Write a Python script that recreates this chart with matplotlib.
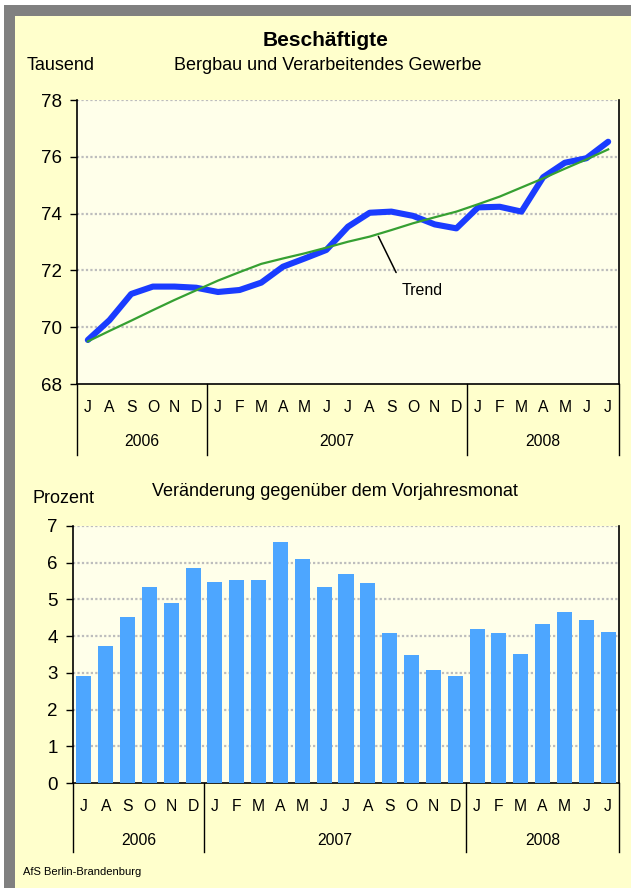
import matplotlib
matplotlib.use("Agg")
import matplotlib.pyplot as plt
import matplotlib.transforms as mtransforms
from matplotlib.patches import Rectangle

plt.rcParams["font.family"] = ["Liberation Sans", "DejaVu Sans"]

# --- Data ---
months = ["J", "A", "S", "O", "N", "D",
          "J", "F", "M", "A", "M", "J", "J", "A", "S", "O", "N", "D",
          "J", "F", "M", "A", "M", "J", "J"]
years = ["2006", "2007", "2008"]
year_len = [6, 12, 7]

employed = [69.55, 70.25, 71.17, 71.43, 71.43, 71.39,
            71.24, 71.31, 71.57, 72.13, 72.42, 72.72, 73.54, 74.03, 74.07, 73.92, 73.62, 73.48,
            74.22, 74.24, 74.07, 75.28, 75.79, 75.95, 76.53]
trend = [69.50, 69.87, 70.23, 70.60, 70.96, 71.30,
         71.64, 71.94, 72.23, 72.42, 72.60, 72.80, 73.01, 73.19, 73.42, 73.66, 73.87, 74.07,
         74.33, 74.60, 74.92, 75.24, 75.58, 75.91, 76.26]
change_pct = [2.91, 3.73, 4.52, 5.34, 4.90, 5.86,
              5.48, 5.53, 5.53, 6.56, 6.10, 5.34, 5.69, 5.45, 4.09, 3.49, 3.08, 2.91,
              4.19, 4.09, 3.51, 4.33, 4.66, 4.44, 4.11]

# --- Style ---
W, H = 631, 888
bg_yellow = "#FFFFCC"
plot_bg = "#FFFFEA"
frame_gray = "#808080"
line_blue = "#1A3CFF"
trend_green = "#36A032"
bar_blue = "#4DA6FF"
grid_style = {"color": "#BDBDBD", "ls": (0, (1, 1)), "lw": 1.6}


def fx(x):
    return x / W


def fy(y):
    return 1 - y / H


fig = plt.figure(figsize=(W / 100, H / 100), dpi=100)
fig.patch.set_facecolor("white")
fig.patches.append(Rectangle((fx(4), 0), 1, fy(5), transform=fig.transFigure,
                             facecolor=frame_gray, edgecolor="none", zorder=-10))
fig.patches.append(Rectangle((fx(15), 0), 1, fy(16), transform=fig.transFigure,
                             facecolor=bg_yellow, edgecolor="none", zorder=-9))

x = list(range(len(months)))


def style_axes(ax, ymin, ymax, step):
    ax.set_facecolor(plot_bg)
    ax.set_xlim(-0.5, len(months) - 0.5)
    ax.set_ylim(ymin, ymax)
    ax.set_yticks(range(ymin, ymax + 1, step))
    ax.set_xticks([])
    for v in range(ymin + step, ymax + 1, step):
        ax.axhline(v, zorder=0, **grid_style)
    ax.spines["top"].set_visible(False)
    for s in ["left", "bottom", "right"]:
        ax.spines[s].set_linewidth(1.2)
        ax.spines[s].set_color("black")
    ax.tick_params(axis="y", length=5, width=1, pad=6, labelsize=13.5)


def month_axis(ax, y_month, y_year, y_end):
    tr = mtransforms.blended_transform_factory(ax.transData, fig.transFigure)
    for i, m in enumerate(months):
        ax.text(i, fy(y_month), m, transform=tr, ha="center", va="center", fontsize=11.3)
    start = -0.5
    bounds = [start]
    for yr, n in zip(years, year_len):
        ax.text(start + n / 2, fy(y_year), yr, transform=tr, ha="center", va="center",
                fontsize=11.3)
        start += n
        bounds.append(start)
    y0 = ax.get_position().y0
    for b in bounds:
        ax.plot([b, b], [y0, fy(y_end)], transform=tr, color="black", lw=1, clip_on=False)


# --- Employed persons ---
ax1 = fig.add_axes([fx(77), fy(384), fx(619) - fx(77), fy(100) - fy(384)])
style_axes(ax1, 68, 78, 2)
ax1.plot(x, employed, color=line_blue, lw=4.4, solid_capstyle="round", zorder=3)
ax1.plot(x, trend, color=trend_green, lw=1.6, zorder=4)
ax1.annotate("Trend", xy=(13.4, 73.2), xytext=(15.4, 71.3), ha="center", va="center",
             fontsize=11.5,
             arrowprops=dict(arrowstyle="-", color="black", lw=1.1, shrinkA=6, shrinkB=0,
                             relpos=(0.0, 1.0)))
month_axis(ax1, 408, 441, 455)

fig.text(fx(326), fy(40), "Beschäftigte", ha="center", va="center", fontsize=15,
         fontweight="bold")
fig.text(fx(27), fy(66), "Tausend", ha="left", va="center", fontsize=13)
fig.text(fx(328), fy(66), "Bergbau und Verarbeitendes Gewerbe", ha="center", va="center",
         fontsize=13)

# --- Change vs previous year ---
ax2 = fig.add_axes([fx(73), fy(783), fx(619) - fx(73), fy(526) - fy(783)])
style_axes(ax2, 0, 7, 1)
ax2.bar(x, change_pct, width=0.69, color=bar_blue, zorder=3)
month_axis(ax2, 806, 840, 852)

fig.text(fx(33), fy(498), "Prozent", ha="left", va="center", fontsize=13)
fig.text(fx(335), fy(491), "Veränderung gegenüber dem Vorjahresmonat", ha="center",
         va="center", fontsize=13)
fig.text(fx(23), fy(872), "AfS Berlin-Brandenburg", ha="left", va="center", fontsize=8)

fig.savefig("out.png", dpi=100, facecolor=fig.get_facecolor())
